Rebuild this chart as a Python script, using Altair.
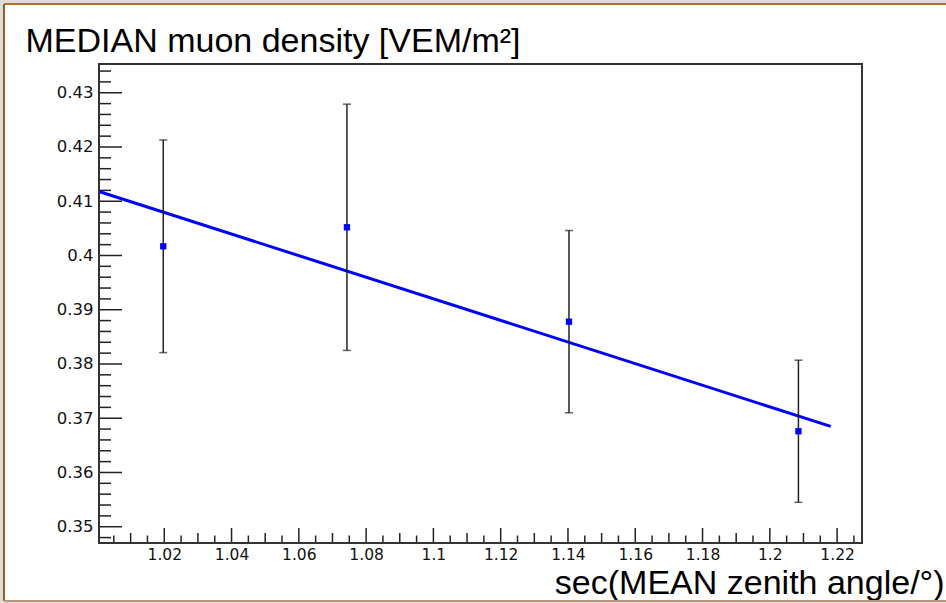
import altair as alt
import pandas as pd
import numpy as np

# ---- data ----
sec_theta = [1.0197, 1.0743, 1.1403, 1.2085]
rho_mu = [0.4017, 0.4052, 0.3878, 0.3676]
rho_err = [0.0196, 0.0227, 0.0168, 0.0131]
fit_x = [1.0006, 1.2181]
fit_y = [0.4118, 0.3685]
x_labels = [1.02, 1.04, 1.06, 1.08, 1.10, 1.12, 1.14, 1.16, 1.18, 1.20, 1.22]
y_labels = [0.35, 0.36, 0.37, 0.38, 0.39, 0.40, 0.41, 0.42, 0.43]
x_domain = [1.0006, 1.2274]
y_domain = [0.3470, 0.4353]

W, H = 763, 479
FONT = "Liberation Sans"
LFONT = "DejaVu Sans"

pts = pd.DataFrame({"x": sec_theta, "y": rho_mu, "e": rho_err})
pts["lo"] = pts["y"] - pts["e"]
pts["hi"] = pts["y"] + pts["e"]
fit = pd.DataFrame({"x": fit_x, "y": fit_y})

# tick positions (ROOT style: inward ticks)
y_minor = [round(v, 3) for v in np.arange(0.348, 0.4350, 0.002) if min(abs(v - t) for t in y_labels) > 1e-6]
x_mid = [round(v, 3) for v in np.arange(1.01, 1.2251, 0.02)]
x_minor = [round(v, 3) for v in np.arange(1.005, 1.2251, 0.01)]

xs = alt.Scale(domain=x_domain, nice=False, zero=False)
ys = alt.Scale(domain=y_domain, nice=False, zero=False)

AX = alt.Axis(
    values=x_labels, format=".2~f", tickSize=0, domain=False, grid=False,
    labelFont=LFONT, labelFontSize=15.5, labelColor="#111", labelPadding=4,
    labelFlush=False, labelOverlap=False,
    title="sec(MEAN zenith angle/°)", titleFont=FONT, titleFontSize=34,
    titleFontWeight="normal", titleColor="black", titleAlign="right",
    titleBaseline="alphabetic", titleX=845, titleY=50)
AY = alt.Axis(
    values=y_labels, format=".2~f", tickSize=0, domain=False, grid=False,
    labelFont=LFONT, labelFontSize=16.5, labelColor="#111", labelPadding=6,
    labelFlush=False, labelOverlap=False,
    title="MEDIAN muon density [VEM/m²]", titleFont=FONT, titleFontSize=34,
    titleFontWeight="normal", titleColor="black", titleAngle=0, titleAlign="left",
    titleBaseline="alphabetic", titleX=-74, titleY=-13)

def X(f):
    return alt.X(f, scale=xs, axis=AX)

def Y(f):
    return alt.Y(f, scale=ys, axis=AY)

one = pd.DataFrame({"a": [0]})
GREY = "#dcdcdc"

g_left = alt.Chart(one).mark_rect(color=GREY).encode(
    x=alt.value(-99), x2=alt.value(-96), y=alt.value(-64), y2=alt.value(539))
g_top = alt.Chart(one).mark_rect(color=GREY).encode(
    x=alt.value(-99), x2=alt.value(860), y=alt.value(-64), y2=alt.value(-61))
g_bot = alt.Chart(one).mark_rect(color=GREY).encode(
    x=alt.value(-99), x2=alt.value(860), y=alt.value(538), y2=alt.value(539))
b_top = alt.Chart(one).mark_rule(color="#b06e2c", strokeWidth=2).encode(
    x=alt.value(-95), x2=alt.value(860), y=alt.value(-60))
b_left = alt.Chart(one).mark_rule(color="#9c5a1e", strokeWidth=2).encode(
    x=alt.value(-95), y=alt.value(-60), y2=alt.value(537))
b_bot = alt.Chart(one).mark_rule(color="#b8987a", strokeWidth=2).encode(
    x=alt.value(-95), x2=alt.value(860), y=alt.value(537))

def yticks(vals, length):
    return alt.Chart(pd.DataFrame({"v": vals})).mark_rule(color="#222", strokeWidth=1.5).encode(
        y=Y("v:Q"), x=alt.value(0), x2=alt.value(length))

def xticks(vals, length):
    return alt.Chart(pd.DataFrame({"v": vals})).mark_rule(color="#222", strokeWidth=1.5).encode(
        x=X("v:Q"), y=alt.value(H), y2=alt.value(H - length))

frame = alt.Chart(one).mark_rect(fill=None, stroke="#333", strokeWidth=2).encode(
    x=alt.value(0), x2=alt.value(W), y=alt.value(0), y2=alt.value(H))

line = alt.Chart(fit).mark_line(color="#0000ff", strokeWidth=3).encode(
    x=X("x:Q"), y=Y("y:Q"))

err = alt.Chart(pts).mark_rule(color="#222", strokeWidth=1.5).encode(
    x=X("x:Q"), y=Y("lo:Q"), y2="hi:Q")
cap_lo = alt.Chart(pts).mark_tick(color="#222", orient="horizontal", size=8, thickness=1.5).encode(
    x=X("x:Q"), y=Y("lo:Q"))
cap_hi = alt.Chart(pts).mark_tick(color="#222", orient="horizontal", size=8, thickness=1.5).encode(
    x=X("x:Q"), y=Y("hi:Q"))

points = alt.Chart(pts).mark_square(color="#0000ff", size=40, opacity=1).encode(
    x=X("x:Q"), y=Y("y:Q"))

chart = alt.layer(
    g_left, g_top, g_bot, b_top, b_left, b_bot,
    yticks(y_labels, 23), yticks(y_minor, 12),
    xticks(x_labels, 15), xticks(x_mid, 10), xticks(x_minor, 7.5),
    line, err, cap_lo, cap_hi, points, frame,
).properties(
    width=W, height=H, background="white",
    padding={"left": 99, "top": 64, "right": 84, "bottom": 60},
    autosize=alt.AutoSizeParams(type="none"),
).configure_view(stroke=None)

chart.save("out.html", embed_options={"renderer": "svg", "actions": False})
